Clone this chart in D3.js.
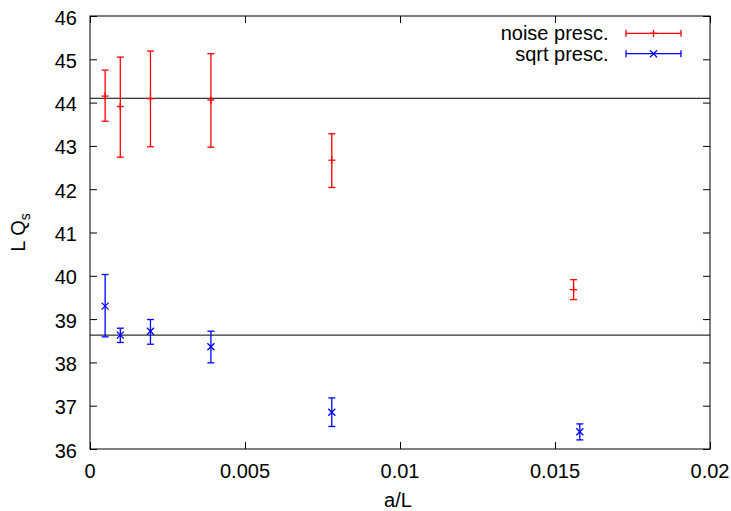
<!DOCTYPE html>
<html><head><meta charset="utf-8">
<script src="https://cdn.jsdelivr.net/npm/d3@7"></script>
<style>body{margin:0;background:#fff}svg{display:block}text{font-family:"Liberation Sans",Arial,sans-serif;}</style>
</head><body>
<svg id="c" width="731" height="511"></svg>
<script>
const noiseX = [0.000488, 0.000977, 0.00195, 0.0039, 0.0078, 0.0156];
const noiseY = [44.15, 43.91, 44.09, 44.06, 42.67, 39.68];
const noiseLo = [43.57, 42.74, 42.98, 42.97, 42.04, 39.45];
const noiseHi = [44.75, 45.05, 45.19, 45.13, 43.28, 39.91];
const sqrtX = [0.000488, 0.000977, 0.00195, 0.0039, 0.0078, 0.0158];
const sqrtY = [39.30, 38.63, 38.72, 38.36, 36.85, 36.40];
const sqrtLo = [38.59, 38.46, 38.42, 37.99, 36.52, 36.21];
const sqrtHi = [40.03, 38.79, 38.99, 38.72, 37.18, 36.58];
const hLines = [44.1, 38.63];
const xTicks = [0, 0.005, 0.01, 0.015, 0.02];
const xTickLabels = ["0", "0.005", "0.01", "0.015", "0.02"];
const yTicks = [36, 37, 38, 39, 40, 41, 42, 43, 44, 45, 46];
const seriesNames = ["noise presc.", "sqrt presc."];

const svg = d3.select("#c");
const L = 90, R = 710, T = 16, B = 449;
const x = d3.scaleLinear().domain([0, 0.02]).range([L, R]);
const y = d3.scaleLinear().domain([36, 46]).range([B, T]);
const fs = 20;

// ticks inward
const tl = 7;
svg.append("g").attr("transform", `translate(0,${B})`)
  .call(d3.axisBottom(x).tickValues(xTicks).tickSize(-tl).tickFormat(""))
  .call(g => { g.select(".domain").remove(); g.selectAll("line").attr("stroke", "#000"); });
svg.append("g").attr("transform", `translate(0,${T})`)
  .call(d3.axisTop(x).tickValues(xTicks).tickSize(-tl).tickFormat(""))
  .call(g => { g.select(".domain").remove(); g.selectAll("line").attr("stroke", "#000"); });
svg.append("g").attr("transform", `translate(${L},0)`)
  .call(d3.axisLeft(y).tickValues(yTicks).tickSize(-tl).tickFormat(""))
  .call(g => { g.select(".domain").remove(); g.selectAll("line").attr("stroke", "#000"); });
svg.append("g").attr("transform", `translate(${R},0)`)
  .call(d3.axisRight(y).tickValues(yTicks).tickSize(-tl).tickFormat(""))
  .call(g => { g.select(".domain").remove(); g.selectAll("line").attr("stroke", "#000"); });

// tick labels
svg.append("g").selectAll("text").data(xTicks).join("text")
  .attr("x", d => x(d)).attr("y", 478).attr("text-anchor", "middle")
  .attr("font-size", fs).text((d, i) => xTickLabels[i]);
svg.append("g").selectAll("text").data(yTicks).join("text")
  .attr("x", 77).attr("y", d => y(d) + 8.5).attr("text-anchor", "end")
  .attr("font-size", fs).text(d => d);

// axis labels
svg.append("text").attr("x", 398).attr("y", 507).attr("text-anchor", "middle")
  .attr("font-size", fs).text("a/L");
const yl = svg.append("text").attr("transform", `translate(25,${(T + B) / 2}) rotate(-90)`)
  .attr("text-anchor", "middle").attr("font-size", fs);
yl.append("tspan").text("L Q");
yl.append("tspan").attr("font-size", 14).attr("dy", 5).text("s");

// horizontal lines
svg.append("g").selectAll("line").data(hLines).join("line")
  .attr("x1", L).attr("x2", R).attr("y1", d => y(d)).attr("y2", d => y(d))
  .attr("stroke", "#000").attr("stroke-width", 1);

function errSeries(xs, ys, lo, hi, color, marker) {
  const g = svg.append("g").attr("stroke", color).attr("stroke-width", 1.3).attr("fill", "none");
  const cw = 3.5, m = 3.5;
  xs.forEach((xv, i) => {
    const px = x(xv);
    g.append("line").attr("x1", px).attr("x2", px).attr("y1", y(lo[i])).attr("y2", y(hi[i]));
    g.append("line").attr("x1", px - cw).attr("x2", px + cw).attr("y1", y(lo[i])).attr("y2", y(lo[i]));
    g.append("line").attr("x1", px - cw).attr("x2", px + cw).attr("y1", y(hi[i])).attr("y2", y(hi[i]));
    drawMarker(g, px, y(ys[i]), marker, m);
  });
}
function drawMarker(g, px, py, marker, m) {
  if (marker === "+") {
    g.append("line").attr("x1", px - m).attr("x2", px + m).attr("y1", py).attr("y2", py);
    g.append("line").attr("x1", px).attr("x2", px).attr("y1", py - m).attr("y2", py + m);
  } else {
    g.append("line").attr("x1", px - m).attr("x2", px + m).attr("y1", py - m).attr("y2", py + m);
    g.append("line").attr("x1", px - m).attr("x2", px + m).attr("y1", py + m).attr("y2", py - m);
  }
}
errSeries(noiseX, noiseY, noiseLo, noiseHi, "#ff0000", "+");
errSeries(sqrtX, sqrtY, sqrtLo, sqrtHi, "#0000ff", "x");

// border
svg.append("rect").attr("x", L).attr("y", T).attr("width", R - L).attr("height", B - T)
  .attr("fill", "none").attr("stroke", "#000").attr("stroke-width", 1);

// legend
const legend = [{ name: seriesNames[0], color: "#ff0000", marker: "+", yy: 33.3 },
                { name: seriesNames[1], color: "#0000ff", marker: "x", yy: 53.7 }];
legend.forEach(d => {
  svg.append("text").attr("x", 608.5).attr("y", d.yy + 6.8).attr("text-anchor", "end")
    .attr("font-size", fs).attr("textLength", null).text(d.name);
  const g = svg.append("g").attr("stroke", d.color).attr("stroke-width", 1.3);
  g.append("line").attr("x1", 626).attr("x2", 681).attr("y1", d.yy).attr("y2", d.yy);
  g.append("line").attr("x1", 626).attr("x2", 626).attr("y1", d.yy - 3.5).attr("y2", d.yy + 3.5);
  g.append("line").attr("x1", 681).attr("x2", 681).attr("y1", d.yy - 3.5).attr("y2", d.yy + 3.5);
  drawMarker(g, 653.5, d.yy, d.marker, 3.5);
});
</script>
</body></html>
